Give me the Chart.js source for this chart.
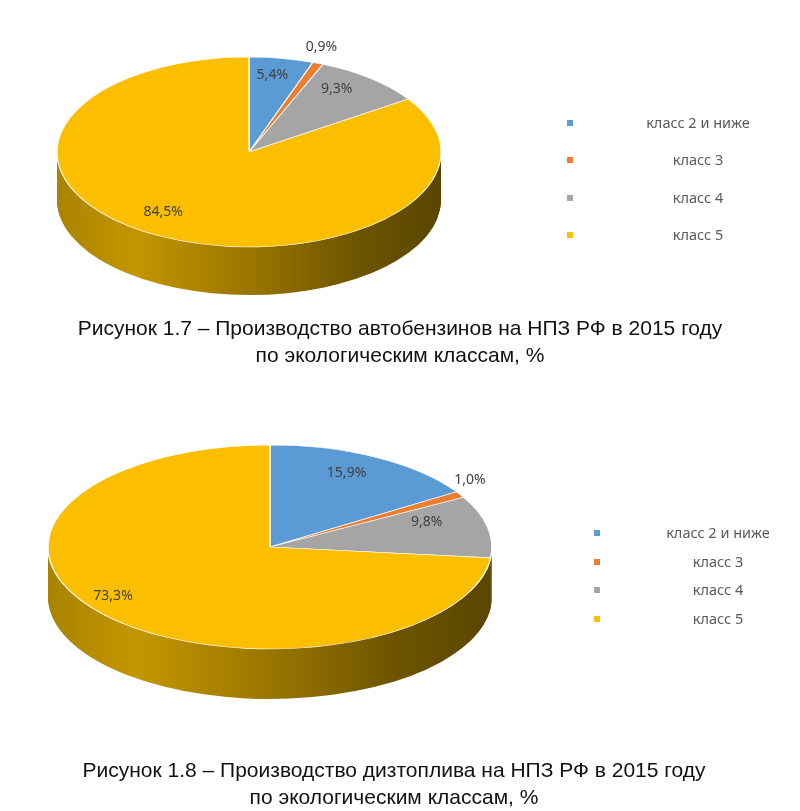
<!DOCTYPE html>
<html>
<head>
<meta charset="utf-8">
<script src="https://cdn.jsdelivr.net/npm/chart.js@4.4.1/dist/chart.umd.min.js"></script>
<style>
    html, body { margin: 0; padding: 0; background: #fff; }
    body { width: 800px; height: 811px; position: relative; overflow: hidden; }
    .pie-box { position: absolute; left: 0; width: 800px; height: 480px; }
    .legend-mark { position: absolute; width: 6px; height: 6px; }
    .legend-text { position: absolute; width: 180px; text-align: center; font: 14.5px "Noto Sans", sans-serif; color: #595959; line-height: 20px; }
    .caption { position: absolute; width: 800px; text-align: center; font: 21px "Liberation Sans", Arial, sans-serif; color: #111; line-height: 27px; }
</style>
</head>
<body>
<div class="pie-box" style="top:0"><canvas id="pie-gasoline"></canvas></div>
<div class="pie-box" style="top:400px"><canvas id="pie-diesel"></canvas></div>
<div id="legend-gasoline"></div>
<div id="legend-diesel"></div>
<div class="caption" style="top:314px;left:0">Рисунок 1.7 – Производство автобензинов на НПЗ РФ в 2015 году<br>по экологическим классам, %</div>
<div class="caption" style="top:756px;left:-6px">Рисунок 1.8 – Производство дизтоплива на НПЗ РФ в 2015 году<br>по экологическим классам, %</div>

<script>
// Ecological classes and their shares, %
const categories = ['класс 2 и ниже', 'класс 3', 'класс 4', 'класс 5'];
const gasolineShares = [5.4, 0.9, 9.3, 84.5];
const dieselShares = [15.9, 1.0, 9.8, 73.3];

const topColors = ['#5b9bd5', '#ed7d31', '#a5a5a5', '#fbbf00'];
const sideColors = ['#2e6aa0', '#a9501a', '#6e6e6e', null]; // null -> gold gradient

const fmt = v => v.toFixed(1).replace('.', ',') + '%';

// Fakes the Excel 3D pie: squash the Chart.js pie into an ellipse and stack its side under it
const pie3d = {
    id: 'pie3d',
    beforeDatasetsDraw(chart, args, opts) {
        const ctx = chart.ctx;
        const meta = chart.getDatasetMeta(0);
        const a0 = meta.data[0];
        const k = opts.ry / a0.outerRadius;
        const sx = opts.rx / a0.outerRadius;
        ctx.save();
        ctx.translate(opts.cx, opts.cy);
        ctx.scale(sx, k);
        ctx.translate(-a0.x, -a0.y);

        const r = a0.outerRadius;
        const gold = ctx.createLinearGradient(a0.x - r, 0, a0.x + r, 0);
        gold.addColorStop(0, '#a98300');
        gold.addColorStop(0.2, '#c39600');
        gold.addColorStop(0.5, '#9a7600');
        gold.addColorStop(0.78, '#6d5400');
        gold.addColorStop(1, '#5a4600');

        for (let d = opts.depth; d >= 1; d--) {
            meta.data.forEach((arc, i) => {
                ctx.fillStyle = sideColors[i] || gold;
                ctx.beginPath();
                ctx.moveTo(arc.x, arc.y + d / k);
                ctx.arc(arc.x, arc.y + d / k, arc.outerRadius, arc.startAngle, arc.endAngle);
                ctx.closePath();
                ctx.fill();
            });
        }
    },
    afterDatasetsDraw(chart, args, opts) {
        const ctx = chart.ctx;
        ctx.restore();
        const meta = chart.getDatasetMeta(0);
        const values = chart.data.datasets[0].data;
        ctx.save();
        ctx.font = '14px "Noto Sans", sans-serif';
        ctx.fillStyle = '#404040';
        ctx.textAlign = 'center';
        ctx.textBaseline = 'middle';
        meta.data.forEach((arc, i) => {
            const mid = (arc.startAngle + arc.endAngle) / 2;
            const cos = Math.cos(mid), sin = Math.sin(mid);
            let x, y;
            if (values[i] < 2) {
                // tiny slice: label sits outside the rim
                x = opts.cx + cos * opts.rx * 1.05;
                y = opts.cy + sin * opts.ry * 1.05 - 12;
            } else {
                const spread = values[i] > 50 ? 1.32 : 1;
                x = opts.cx + cos * opts.rx * 0.72 * spread;
                // back half looks lifted by the perspective
                y = opts.cy + sin * opts.ry * 0.72 - (sin < 0 ? 10 : 0);
            }
            ctx.fillText(fmt(values[i]), x, y);
        });
        ctx.restore();
    }
};

function makePie(canvasId, shares, geom) {
    return new Chart(document.getElementById(canvasId), {
        type: 'pie',
        data: {
            labels: categories,
            datasets: [{
                data: shares,
                backgroundColor: topColors,
                borderColor: '#ffffff',
                borderWidth: 1.5,
                clip: false,
            }],
        },
        options: {
            responsive: true,
            maintainAspectRatio: false,
            animation: false,
            events: [],
            plugins: {
                legend: { display: false },
                tooltip: { enabled: false },
                pie3d: geom,
            },
        },
        plugins: [pie3d],
    });
}

function makeLegend(elId, markX, textX, top, step) {
    const el = document.getElementById(elId);
    el.innerHTML = categories.map((c, i) => `
        <div class="legend-mark" style="left:${markX - 3}px;top:${top + i * step - 3}px;background:${topColors[i]};"></div>
        <div class="legend-text" style="left:${textX - 90}px;top:${top + i * step - 11}px;">${c}</div>
    `).join('');
}

makePie('pie-gasoline', gasolineShares, { cx: 249, cy: 152, rx: 192, ry: 95, depth: 48 });
makePie('pie-diesel', dieselShares, { cx: 270, cy: 147, rx: 222, ry: 102, depth: 50 });
makeLegend('legend-gasoline', 570, 698, 123, 37.4);
makeLegend('legend-diesel', 597, 718, 533, 28.5);
</script>
</body>
</html>
